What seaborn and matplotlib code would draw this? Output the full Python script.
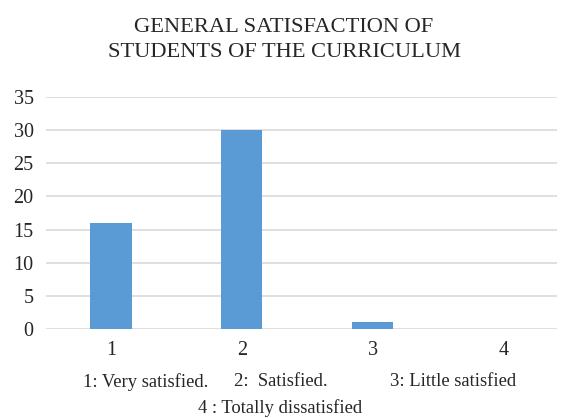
import matplotlib
matplotlib.use('Agg')
import matplotlib.pyplot as plt
import seaborn as sns
import pandas as pd

levels = ['1', '2', '3', '4']
students = [16, 30, 1, 0]
key_line1 = ['1: Very satisfied.', '2:  Satisfied.', '3: Little satisfied']
key_line2 = '4 : Totally dissatisfied'
title = 'GENERAL SATISFACTION OF\nSTUDENTS OF THE CURRICULUM'

sns.set_style('white')
plt.rcParams['font.family'] = ['Liberation Serif', 'DejaVu Serif']

df = pd.DataFrame({'level': levels, 'students': students})

fig = plt.figure(figsize=(5.68, 4.18), dpi=100)
ax = fig.add_axes([0.081, 0.213, 0.9, 0.555])
sns.barplot(data=df, x='level', y='students', color='#5B9BD5', width=0.314,
            saturation=1, linewidth=0, ax=ax, zorder=3)

ax.set_ylim(0, 35)
ax.set_yticks(range(0, 36, 5))
ax.set_xlim(-0.497, 3.41)
ax.yaxis.grid(True, color='#D9D9D9', linewidth=1.2, zorder=0)
ax.set_axisbelow(True)
for s in ax.spines.values():
    s.set_visible(False)
ax.tick_params(length=0, labelsize=14.5, pad=9)
ax.tick_params(axis='x', pad=9)
ax.set_xlabel('')
ax.set_ylabel('')

fig.text(0.5, 0.905, title, ha='center', va='center', fontsize=16.2, linespacing=1.4)

xs = [0.256, 0.494, 0.797]
for x, t in zip(xs, key_line1):
    fig.text(x, 0.087, t, ha='center', va='center', fontsize=13.4)
fig.text(0.493, 0.024, key_line2, ha='center', va='center', fontsize=13.4)

fig.savefig('out.png', dpi=100)
